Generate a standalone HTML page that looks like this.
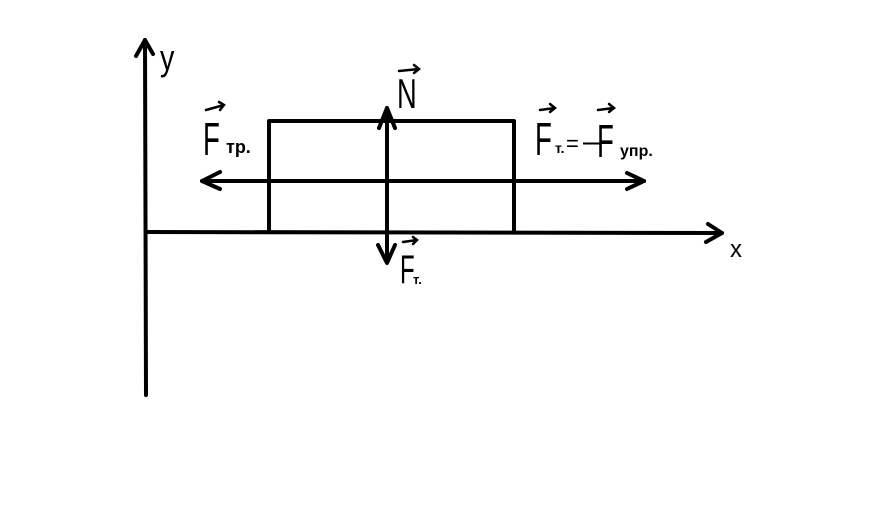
<!DOCTYPE html>
<html><head><style>html,body{margin:0;padding:0;background:#fff}svg{display:block}</style></head>
<body>
<svg width="870" height="519" viewBox="0 0 870 519" xmlns="http://www.w3.org/2000/svg">
<g stroke="#000" stroke-width="4" fill="none" stroke-linecap="round" stroke-linejoin="round">
<path d="M146 395 L145 40"/>
<path d="M136 56 L145 40 L153 54"/>
<path d="M146 232 L722 233"/>
<path d="M708 224 L722 233 L706 242"/>
<path d="M269 232 L269 121 L514 121 L514 232"/>
<path d="M202 181 L644 181"/>
<path d="M220 172 L202 181 L220 189"/>
<path d="M627 173 L644 181 L627 189"/>
<path d="M387 108 L387 262"/>
<path d="M379 128 L387 108 L395 128"/>
<path d="M378 245 L387 263 L395 245"/>
</g>
<g stroke="#000" stroke-width="2.5" fill="none" stroke-linecap="round">
<path d="M399 71 L419 69 M414 65 L419 69 L414 73"/>
<path d="M206 110 L224 105 M219 102 L224 105 L220 110"/>
<path d="M540 110 L555 108 M550 104 L555 108 L550 112"/>
<path d="M598 110 L614 108 M609 104 L614 108 L609 112"/>
<path d="M403 242 L417 240 M413 237 L417 240 L413 244"/>
</g>
<g font-family="Liberation Sans, sans-serif" fill="#000">
<text x="160" y="70" font-size="36" transform="translate(160 0) scale(0.8 1) translate(-160 0)">y</text>
<text x="730" y="257" font-size="24">x</text>
<text x="397" y="108" font-size="42" transform="translate(397 0) scale(0.65 1) translate(-397 0)">N</text>
<text x="203" y="155" font-size="46" transform="translate(203 0) scale(0.6 1) translate(-203 0)">F</text>
<text x="226" y="153" font-size="18" font-weight="bold">тр.</text>
<text x="535" y="155" font-size="46" transform="translate(535 0) scale(0.6 1) translate(-535 0)">F</text>
<text x="555" y="153" font-size="14" font-weight="bold">т.</text>
<text x="566" y="151" font-size="22">=</text>
<text x="583" y="151" font-size="30">–</text>
<text x="597" y="157" font-size="46" transform="translate(597 0) scale(0.6 1) translate(-597 0)">F</text>
<text x="620" y="156" font-size="16" font-weight="bold">упр.</text>
<text x="400" y="283" font-size="40" transform="translate(400 0) scale(0.6 1) translate(-400 0)">F</text>
<text x="413" y="284" font-size="13" font-weight="bold">т.</text>
</g>
</svg>
</body></html>
